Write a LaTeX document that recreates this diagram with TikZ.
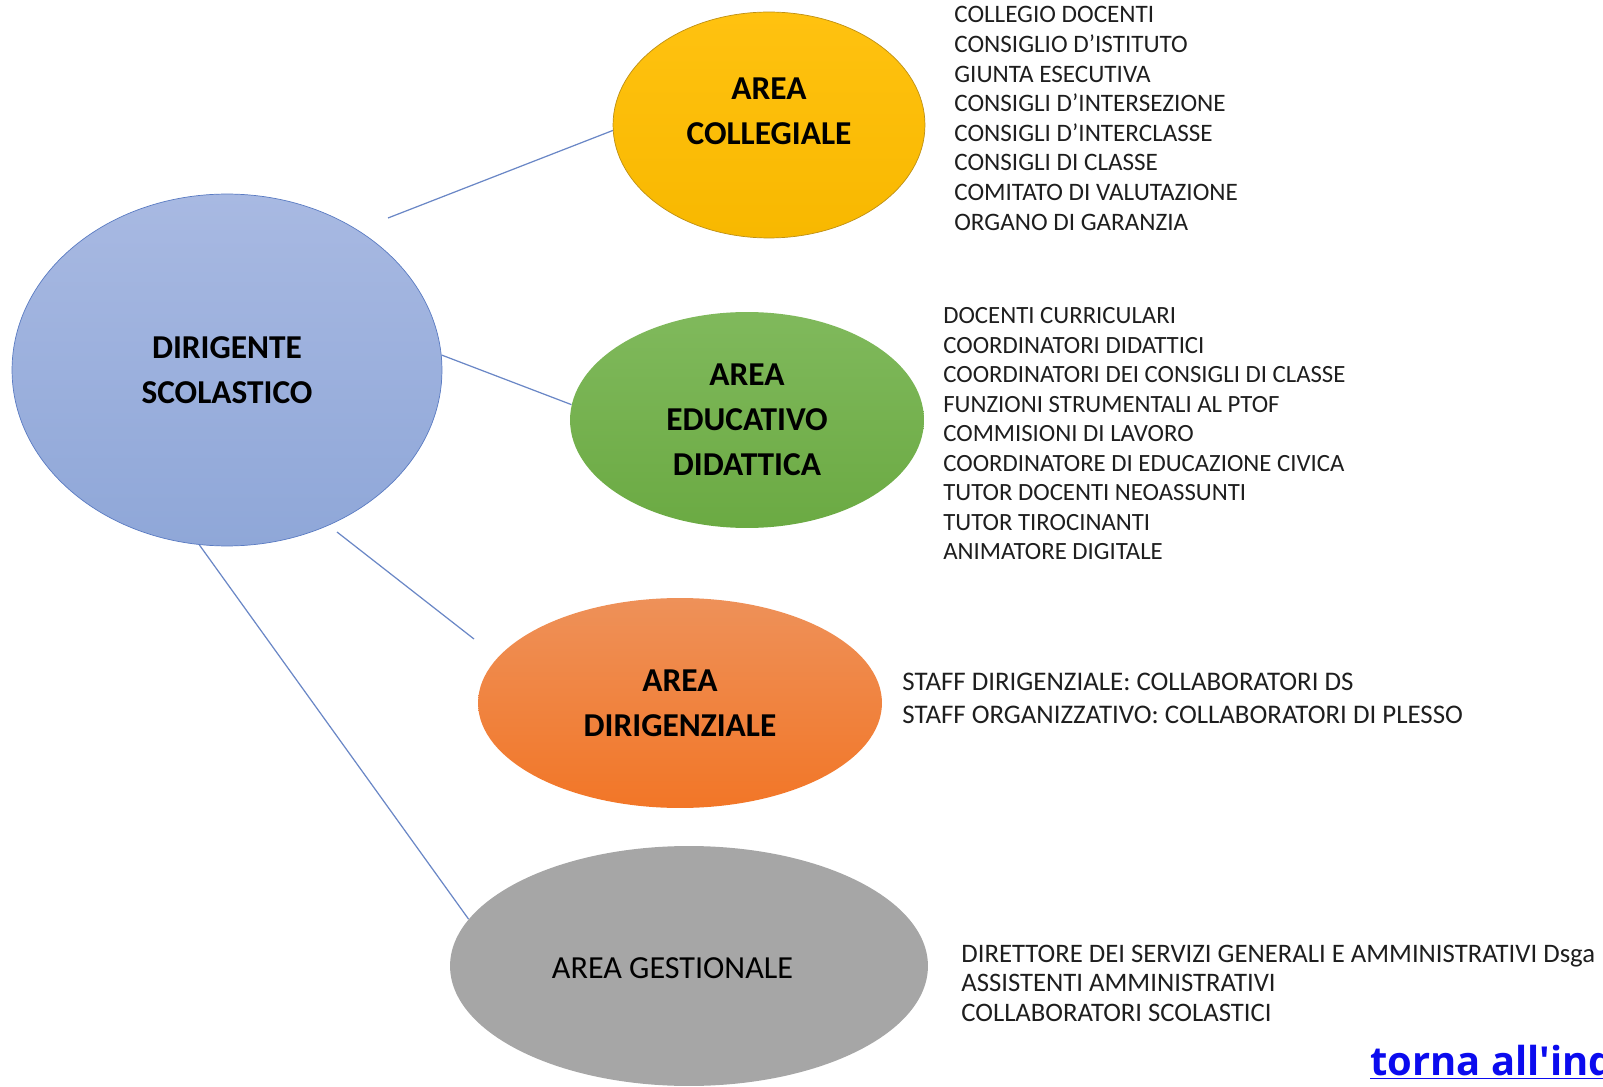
\documentclass[tikz,border=0pt]{standalone}
\usepackage{fontspec}
\setmainfont{Carlito}
\newfontfamily\linkfont{Open Sans}
\usetikzlibrary{shapes.geometric}

\definecolor{dsblue}{HTML}{5A7BC2}
\definecolor{linkblue}{HTML}{6A87C6}
\definecolor{itemgray}{HTML}{1E1E1E}
\definecolor{urlblue}{HTML}{0B0BEE}

\newcommand{\areafont}{\fontsize{19pt}{25.6pt}\selectfont\bfseries}
\newcommand{\itemfont}{\fontsize{14.3pt}{16.8pt}\selectfont}

\tikzset{
  area/.style={ellipse, inner sep=0pt, align=center, font=\areafont},
  item/.style={anchor=base west, inner sep=0pt, font=\itemfont, text=itemgray},
  link/.style={draw=linkblue, line width=0.7pt},
}

\begin{document}
\begin{tikzpicture}[x=0.02cm, y=-0.02cm]
\useasboundingbox (0,0) rectangle (1603,1087);

% the five ellipses
\node[area, draw=dsblue,
      top color={rgb,255:red,168;green,185;blue,226}, bottom color={rgb,255:red,143;green,167;blue,216},
      minimum width=8.6cm, minimum height=7.04cm] (ds) at (227,370) {DIRIGENTE\\SCOLASTICO};
\node[area, draw={rgb,255:red,190;green,144;blue,20},
      top color={rgb,255:red,255;green,194;blue,16}, bottom color={rgb,255:red,248;green,184;blue,0},
      minimum width=6.24cm, minimum height=4.52cm,
      label={[name=col-lbl, font=\areafont, align=center, yshift=0.28cm]center:AREA\\COLLEGIALE}] (col) at (769,125) {};
\node[area, top color={rgb,255:red,128;green,185;blue,92}, bottom color={rgb,255:red,107;green,170;blue,67},
      minimum width=7.08cm, minimum height=4.32cm] (did) at (747,420) {AREA\\EDUCATIVO\\DIDATTICA};
\node[area, top color={rgb,255:red,238;green,145;blue,89}, bottom color={rgb,255:red,242;green,118;blue,39},
      minimum width=8.08cm, minimum height=4.2cm] (dir) at (680,703) {AREA\\DIRIGENZIALE};
\node[area, fill={rgb,255:red,166;green,166;blue,166},
      minimum width=9.56cm, minimum height=4.8cm,
      label={[name=ges-lbl, font=\fontsize{18.3pt}{22pt}\selectfont, xshift=-0.33cm, yshift=-0.04cm]center:AREA GESTIONALE}] (ges) at (689,966) {};

% connectors
\coordinate (ds-col) at (388,218);
\coordinate (ds-dir) at (337,532);
\coordinate (dir-in) at (474,639);
\draw[link] (ds-col) -- (col.182);
\draw[link] (ds.4) -- (did.175);
\draw[link] (ds-dir) -- (dir-in);
\draw[link] (ds.261) -- (ges.168);

% lists
\foreach \t [count=\i] in {COLLEGIO DOCENTI, CONSIGLIO D’ISTITUTO, GIUNTA ESECUTIVA,
    CONSIGLI D’INTERSEZIONE, CONSIGLI D’INTERCLASSE, CONSIGLI DI CLASSE,
    COMITATO DI VALUTAZIONE, ORGANO DI GARANZIA}
  \node[item] (col-\i) at (954,{23+29.6*(\i-1)}) {\t};

\foreach \t [count=\i] in {DOCENTI CURRICULARI, COORDINATORI DIDATTICI,
    COORDINATORI DEI CONSIGLI DI CLASSE, FUNZIONI STRUMENTALI AL PTOF,
    COMMISIONI DI LAVORO, COORDINATORE DI EDUCAZIONE CIVICA,
    TUTOR DOCENTI NEOASSUNTI, TUTOR TIROCINANTI, ANIMATORE DIGITALE}
  \node[item, font=\fontsize{14.1pt}{16.8pt}\selectfont] (did-\i) at (943,{324+29.5*(\i-1)}) {\t};

\foreach \t [count=\i] in {STAFF DIRIGENZIALE: COLLABORATORI DS,
    STAFF ORGANIZZATIVO: COLLABORATORI DI PLESSO}
  \node[item, font=\fontsize{15.3pt}{18pt}\selectfont] (dir-\i) at (902,{690+34*(\i-1)}) {\t};

\foreach \t [count=\i] in {DIRETTORE DEI SERVIZI GENERALI E AMMINISTRATIVI Dsga,
    ASSISTENTI AMMINISTRATIVI, COLLABORATORI SCOLASTICI}
  \node[item, font=\fontsize{15.2pt}{18pt}\selectfont] (ges-\i) at (961,{962+29.5*(\i-1)}) {\t};

% back link, runs off the page edge
\begin{scope}
\clip (0,0) rectangle (1603,1087);
\node[anchor=base west, inner sep=0pt, text=urlblue, font=\linkfont\bfseries\fontsize{22.7pt}{26pt}\selectfont]
  (back) at (1370,1075) {\underline{torna all'indice}};
\end{scope}
\end{tikzpicture}
\end{document}
